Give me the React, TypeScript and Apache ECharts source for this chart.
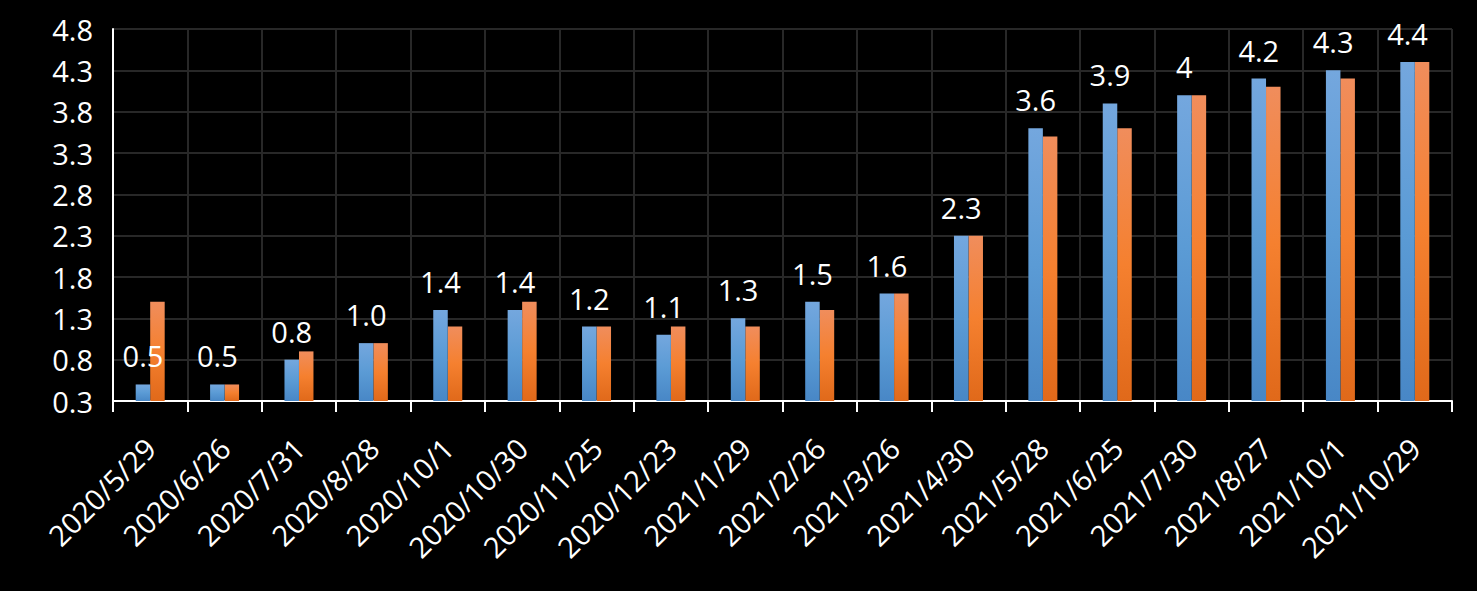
import React, { useEffect, useRef } from "react";
import * as echarts from "echarts";

const categories = [
  "2020/5/29", "2020/6/26", "2020/7/31", "2020/8/28", "2020/10/1", "2020/10/30",
  "2020/11/25", "2020/12/23", "2021/1/29", "2021/2/26", "2021/3/26", "2021/4/30",
  "2021/5/28", "2021/6/25", "2021/7/30", "2021/8/27", "2021/10/1", "2021/10/29",
];
const blueValues = [0.5, 0.5, 0.8, 1.0, 1.4, 1.4, 1.2, 1.1, 1.3, 1.5, 1.6, 2.3, 3.6, 3.9, 4.0, 4.2, 4.3, 4.4];
const orangeValues = [1.5, 0.5, 0.9, 1.0, 1.2, 1.5, 1.2, 1.2, 1.2, 1.4, 1.6, 2.3, 3.5, 3.6, 4.0, 4.1, 4.2, 4.4];
const blueLabels = ["0.5", "0.5", "0.8", "1.0", "1.4", "1.4", "1.2", "1.1", "1.3", "1.5", "1.6", "2.3", "3.6", "3.9", "4", "4.2", "4.3", "4.4"];
const yTickLabels = ["0.3", "0.8", "1.3", "1.8", "2.3", "2.8", "3.3", "3.8", "4.3", "4.8"];

const FONT = "'Open Sans', 'Noto Sans', sans-serif";

export default function App() {
  const ref = useRef<HTMLDivElement>(null);
  useEffect(() => {
    if (!ref.current) return;
    const chart = echarts.init(ref.current, undefined, { renderer: "svg" });
    const blueGrad = new echarts.graphic.LinearGradient(0, 0, 0, 1, [
      { offset: 0, color: "#74a7de" },
      { offset: 0.5, color: "#5b9bd5" },
      { offset: 1, color: "#4887c6" },
    ]);
    const orangeGrad = new echarts.graphic.LinearGradient(0, 0, 0, 1, [
      { offset: 0, color: "#f08d5c" },
      { offset: 0.5, color: "#f5802f" },
      { offset: 1, color: "#e0691a" },
    ]);
    chart.setOption({
      animation: false,
      backgroundColor: "#000000",
      textStyle: { fontFamily: FONT },
      grid: { left: 113, right: 25, top: 29, bottom: 190, containLabel: false },
      xAxis: {
        type: "category",
        data: categories,
        boundaryGap: true,
        axisLine: { show: true, lineStyle: { color: "#ffffff", width: 2 } },
        axisTick: { show: true, length: 11, lineStyle: { color: "#ffffff", width: 2 } },
        splitLine: { show: true, lineStyle: { color: "#282828", width: 2 } },
        axisLabel: {
          rotate: 45,
          interval: 0,
          margin: 42,
          color: "#ffffff",
          fontSize: 29,
          fontFamily: FONT,
        },
      },
      yAxis: {
        type: "value",
        min: 0.3,
        max: 4.8,
        interval: 0.5,
        axisLine: { show: true, lineStyle: { color: "#ffffff", width: 2 } },
        axisTick: { show: false },
        splitLine: { show: true, lineStyle: { color: "#282828", width: 2 } },
        axisLabel: {
          color: "#ffffff",
          fontSize: 29,
          fontFamily: FONT,
          margin: 20,
          formatter: (v: number) => {
            const idx = Math.round((v - 0.3) / 0.5);
            return yTickLabels[idx] ?? v.toFixed(1);
          },
        },
      },
      series: [
        {
          type: "bar",
          data: blueValues,
          barWidth: 14.5,
          barGap: "0%",
          itemStyle: { color: blueGrad },
          label: {
            show: true,
            position: "top",
            distance: 14,
            color: "#ffffff",
            fontSize: 29,
            fontFamily: FONT,
            formatter: (p: any) => blueLabels[p.dataIndex],
          },
          z: 2,
        },
        {
          type: "bar",
          data: orangeValues,
          barWidth: 14.5,
          barGap: "0%",
          itemStyle: { color: orangeGrad },
          z: 1,
        },
      ],
    });
    return () => chart.dispose();
  }, []);
  return (
    <div
      ref={ref}
      style={{ position: "fixed", left: 0, top: 0, width: 1477, height: 591, background: "#000" }}
    />
  );
}
